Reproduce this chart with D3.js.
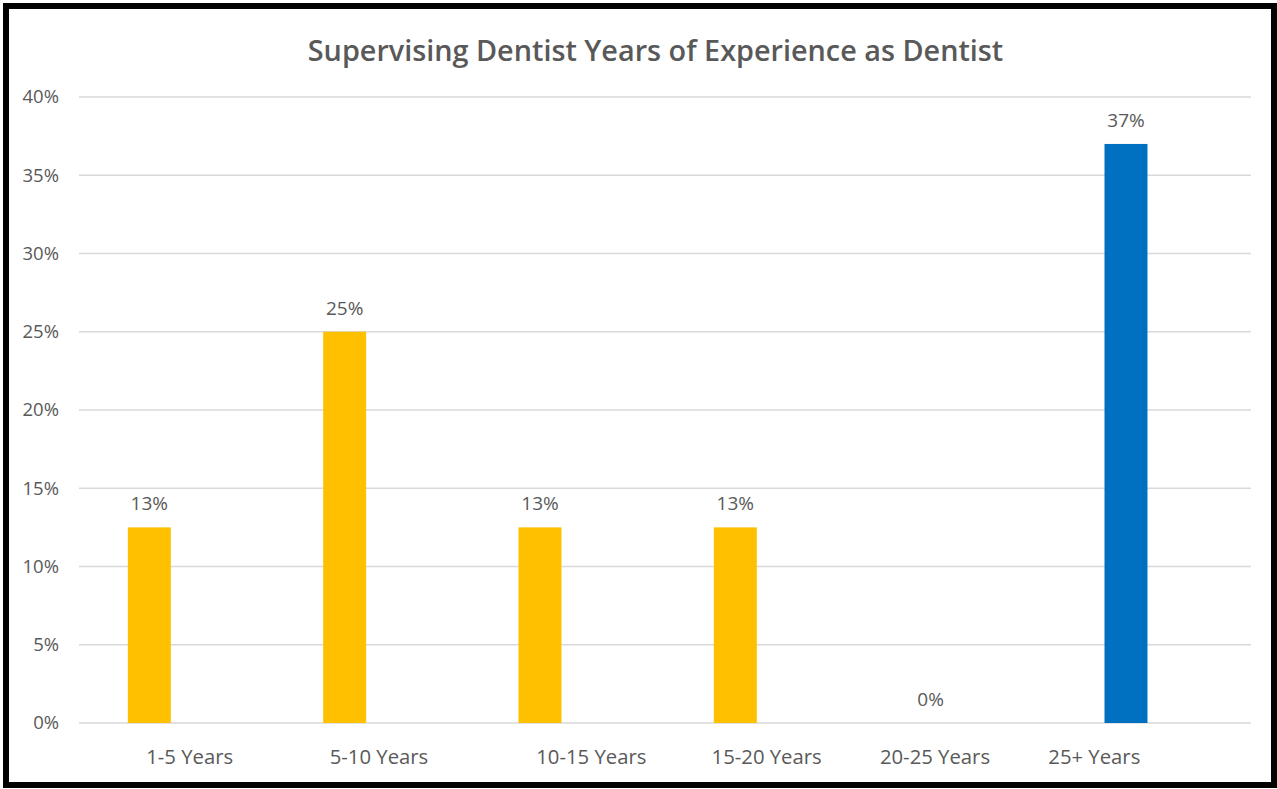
<!DOCTYPE html>
<html lang='en'>
<head>
  <title>Supervising Dentist Years of Experience</title>
  <script src='https://cdn.jsdelivr.net/npm/d3@7'></script>
  <style>
    body { margin: 0; background: #fff; }
    text { font-family: 'Open Sans', sans-serif; fill: #595959; }
  </style>
</head>
<body>
  <script>
    // chart data
    const categories = ["1-5 Years", "5-10 Years", "10-15 Years", "15-20 Years", "20-25 Years", "25+ Years"];
    const values = [12.5, 25, 12.5, 12.5, 0, 37];
    const valueLabels = ["13%", "25%", "13%", "13%", "0%", "37%"];
    const yTicks = [0, 5, 10, 15, 20, 25, 30, 35, 40];
    const barColors = ["#FFC000", "#FFC000", "#FFC000", "#FFC000", "#FFC000", "#0070C0"];
    // category labels in the original sit a little off centre
    const labelDx = [13, 7, 24, 4, -23, -59];

    const width = 1277, height = 789;
    const margins = { left: 79, top: 97, right: 26, bottom: 66 };

    let svg = d3.select("body").append("svg")
      .attr("width", width)
      .attr("height", height);

    // frame
    svg.append("rect")
      .attr("x", 6).attr("y", 6)
      .attr("width", 1268).attr("height", 779)
      .attr("fill", "none")
      .attr("stroke", "#000")
      .attr("stroke-width", 6);

    let x = d3.scaleBand()
      .domain(categories)
      .range([margins.left, width - margins.right]);
    let y = d3.scaleLinear()
      .domain([0, 40])
      .range([height - margins.bottom, margins.top]);

    // gridlines
    svg.append("g").selectAll("line").data(yTicks).join("line")
      .attr("x1", margins.left).attr("x2", width - margins.right)
      .attr("y1", d => y(d)).attr("y2", d => y(d))
      .attr("stroke", "#d9d9d9")
      .attr("stroke-width", 1.3);

    // y axis labels
    let yAxis = svg.append("g")
      .attr("transform", `translate(${margins.left}, 0)`)
      .call(d3.axisLeft(y).tickValues(yTicks).tickFormat(d => d + "%").tickSize(0).tickPadding(20));
    yAxis.select(".domain").remove();
    yAxis.selectAll("text")
      .style("font-size", "18.5px")
      .style("font-family", "'Open Sans', sans-serif")
      .attr("fill", "#595959");

    // bars
    let bw = x.bandwidth();
    svg.append("g").selectAll("rect").data(values).join("rect")
      .attr("x", (d, i) => x(categories[i]) + bw * 0.25)
      .attr("width", bw * 0.22)
      .attr("y", d => y(d))
      .attr("height", d => y(0) - y(d))
      .attr("fill", (d, i) => barColors[i]);

    // data labels
    svg.append("g").selectAll("text").data(values).join("text")
      .text((d, i) => valueLabels[i])
      .attr("x", (d, i) => x(categories[i]) + bw * 0.36)
      .attr("y", d => y(d) - 17)
      .attr("text-anchor", "middle")
      .style("font-size", "19px");

    // category labels
    svg.append("g").selectAll("text").data(categories).join("text")
      .text(d => d)
      .attr("x", (d, i) => x(d) + bw / 2 + labelDx[i])
      .attr("y", height - margins.bottom + 41)
      .attr("text-anchor", "middle")
      .style("font-size", "20.3px");

    // title
    svg.append("text")
      .text("Supervising Dentist Years of Experience as Dentist")
      .attr("x", 655.5)
      .attr("y", 61)
      .attr("text-anchor", "middle")
      .style("font-size", "28.8px")
      .style("font-weight", 600);
  </script>
</body>
</html>
